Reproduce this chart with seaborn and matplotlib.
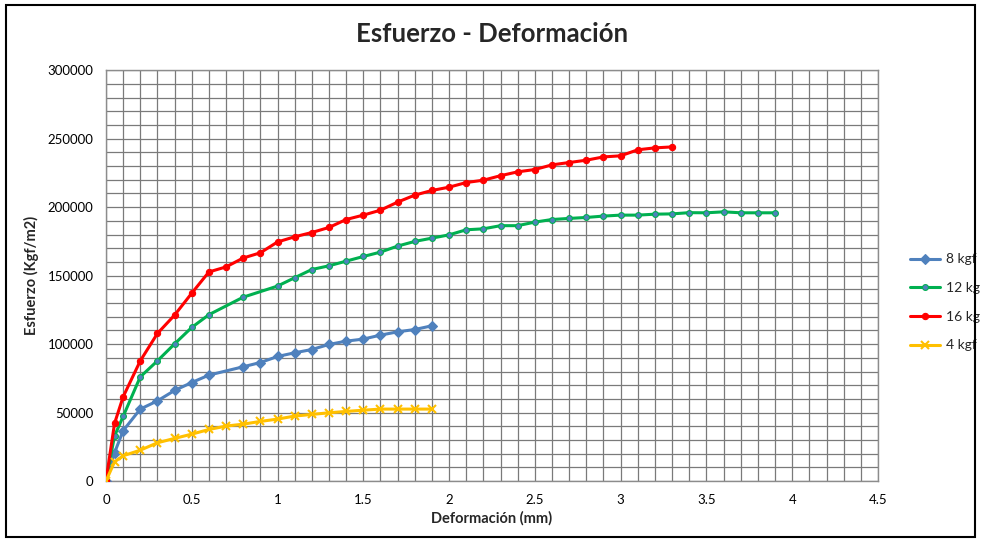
import pandas as pd
import numpy as np
import matplotlib.pyplot as plt
import seaborn as sns
from matplotlib.ticker import MultipleLocator
from matplotlib.patches import Rectangle

# 8 kgf
x_8 = [0, 0.05, 0.1, 0.2, 0.3, 0.4, 0.5, 0.6, 0.8, 0.9, 1.0, 1.1, 1.2, 1.3, 1.4, 1.5, 1.6, 1.7, 1.8, 1.9]
y_8 = [0, 20700, 36800, 52600, 58600, 66200, 72000, 77400, 83500, 86600, 91000, 93700, 96100, 99800,
       102200, 103700, 106600, 109000, 110700, 113400]

# 12 kg
x_12 = [0, 0.05, 0.1, 0.2, 0.3, 0.4, 0.5, 0.6, 0.8, 1.0, 1.1, 1.2, 1.3, 1.4, 1.5, 1.6, 1.7, 1.8, 1.9,
        2.0, 2.1, 2.2, 2.3, 2.4, 2.5, 2.6, 2.7, 2.8, 2.9, 3.0, 3.1, 3.2, 3.3, 3.4, 3.5, 3.6, 3.7, 3.8, 3.9]
y_12 = [0, 33000, 47200, 76100, 87800, 100200, 112200, 121500, 134300, 142400, 148500, 154500, 157200,
        160600, 164000, 167200, 171600, 175000, 177400, 179800, 183500, 184200, 186500, 186500, 189100,
        191000, 191800, 192500, 193500, 194200, 194200, 194900, 195100, 196000, 195900, 196600, 195900,
        195900, 195900]

# 16 kg
x_16 = [0, 0.05, 0.1, 0.2, 0.3, 0.4, 0.5, 0.6, 0.7, 0.8, 0.9, 1.0, 1.1, 1.2, 1.3, 1.4, 1.5, 1.6, 1.7,
        1.8, 1.9, 2.0, 2.1, 2.2, 2.3, 2.4, 2.5, 2.6, 2.7, 2.8, 2.9, 3.0, 3.1, 3.2, 3.3]
y_16 = [0, 42100, 61500, 87800, 107800, 121200, 137200, 152700, 156400, 162900, 166700, 174600, 178400,
        181500, 185200, 191000, 194200, 197800, 203700, 208800, 212200, 214600, 218000, 219700, 223000,
        225800, 227500, 230900, 232600, 234300, 236700, 237500, 241900, 243300, 244000]

# 4 kgf
x_4 = [0, 0.05, 0.1, 0.2, 0.3, 0.4, 0.5, 0.6, 0.7, 0.8, 0.9, 1.0, 1.1, 1.2, 1.3, 1.4, 1.5, 1.6, 1.7, 1.8, 1.9]
y_4 = [0, 14100, 18500, 22600, 28000, 31200, 34300, 37700, 40200, 41600, 43600, 45300, 47500, 48700,
       49900, 50900, 51800, 52600, 52600, 52600, 52600]

series = [
    ('8 kgf', x_8, y_8, '#4F81BD', 'D', 5.5, '#4F81BD', '#4F81BD'),
    ('12 kg', x_12, y_12, '#00B050', 'o', 4.2, '#4F81BD', '#00B050'),
    ('16 kg', x_16, y_16, '#FF0000', 'o', 4.5, '#FF0000', '#FF0000'),
    ('4 kgf', x_4, y_4, '#FFC000', 'x', 6, '#FFC000', '#FFC000'),
]

sns.set_theme(style='white')
plt.rcParams['font.family'] = ['Lato', 'DejaVu Sans']

fig = plt.figure(figsize=(9.81, 5.4), dpi=100)
ax = fig.add_axes([0.108, 0.109, 0.787, 0.761])

for name, xs, ys, col, mk, ms, mfc, mec in series:
    df = pd.DataFrame({'x': xs, 'y': ys})
    sns.lineplot(data=df, x='x', y='y', ax=ax, color=col, lw=2.2, marker=mk, markersize=ms,
                 markerfacecolor=mfc, markeredgecolor=mec, markeredgewidth=1.5 if mk == 'x' else 0.8,
                 label=name, sort=False, zorder=3)

ax.set_xlim(0, 4.5)
ax.set_ylim(0, 300000)
ax.xaxis.set_major_locator(MultipleLocator(0.5))
ax.xaxis.set_minor_locator(MultipleLocator(0.1))
ax.yaxis.set_major_locator(MultipleLocator(50000))
ax.yaxis.set_minor_locator(MultipleLocator(10000))
ax.grid(which='both', color='#7a7a7a', lw=0.9)
ax.set_axisbelow(True)
ax.tick_params(which='both', length=0, labelsize=9.5, colors='black', pad=9)
ax.set_xticklabels([f'{v:g}' for v in ax.get_xticks()])
for s in ax.spines.values():
    s.set_color('#8c8c8c')
    s.set_linewidth(1)

ax.set_title('Esfuerzo - Deformación', fontsize=18.5, fontweight='bold', pad=20)
ax.set_xlabel('Deformación (mm)', fontsize=10.5, fontweight='bold', labelpad=4)
ax.set_ylabel('Esfuerzo (Kgf/m2)', fontsize=10.5, fontweight='bold', labelpad=6)

ax.legend(loc='center left', bbox_to_anchor=(1.023, 0.435), frameon=False, fontsize=10,
          handlelength=2.2, labelspacing=1.2, borderaxespad=0.6, handletextpad=0.4)

fig.patches.append(Rectangle((0.006, 0.006), 0.988, 0.985, transform=fig.transFigure,
                             fill=False, edgecolor='black', lw=1.5, zorder=10))

plt.savefig('out.png', dpi=100)
